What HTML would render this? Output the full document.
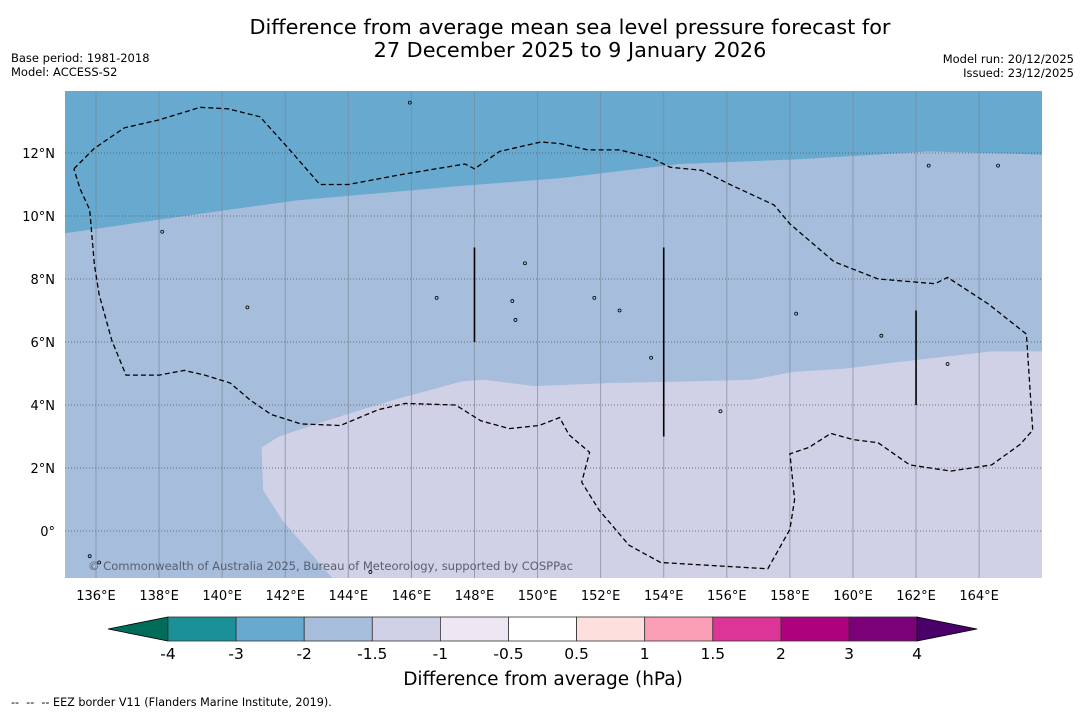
<!DOCTYPE html>
<html><head><meta charset="utf-8"><style>
body{margin:0;background:#fff;width:1085px;height:713px;overflow:hidden;font-family:"Liberation Sans","DejaVu Sans",sans-serif;}
svg text{font-family:"DejaVu Sans","Liberation Sans",sans-serif;}
</style></head><body>
<svg id="chart" width="1085" height="713" xmlns="http://www.w3.org/2000/svg">
<text x="570" y="34" font-size="20.8" text-anchor="middle">Difference from average mean sea level pressure forecast for</text>
<text x="570" y="57" font-size="20.8" text-anchor="middle">27 December 2025 to 9 January 2026</text>
<text x="11" y="62" font-size="11.5">Base period: 1981-2018</text>
<text x="11" y="76" font-size="11.5">Model: ACCESS-S2</text>
<text x="1074" y="63" font-size="11.5" text-anchor="end">Model run: 20/12/2025</text>
<text x="1074" y="77" font-size="11.5" text-anchor="end">Issued: 23/12/2025</text>
<g id="map"></g>
<g id="cbar"></g>
<text x="543" y="685" font-size="18.5" text-anchor="middle">Difference from average (hPa)</text>
<text x="11" y="706" font-size="11.2" xml:space="preserve">--  --  -- EEZ border V11 (Flanders Marine Institute, 2019).</text>
</svg>
<script>
const lonTicks=[136,138,140,142,144,146,148,150,152,154,156,158,160,162,164];
const latTicks=[12,10,8,6,4,2,0];
const levels=["-4","-3","-2","-1.5","-1","-0.5","0.5","1","1.5","2","3","4"];
const levelColors=["#1c9099","#67a9cf","#a6bddb","#d0d1e6","#ece7f2","#ffffff","#fde0dd","#fa9fb5","#dd3497","#ae017e","#7a0177"];
const underColor="#016c59", overColor="#49006a";
const darkEdge=[[135,9.45],[140.2,10.2],[142.4,10.5],[147.5,10.95],[150.7,11.2],[154.5,11.65],[158.3,11.8],[162.4,12.05],[166,11.95]];
const lightEdge=[[143.5,-1.5],[141.9,0.35],[141.3,1.3],[141.25,2.65],[141.8,3.0],[143.3,3.5],[145.4,4.15],[147.6,4.75],[148.3,4.8],[149.9,4.6],[152.4,4.7],[154.9,4.75],[156.8,4.8],[158.1,5.05],[159.7,5.15],[161.3,5.35],[164.4,5.7],[166,5.7]];
const eez=[[135.3,11.5],[135.95,12.15],[136.9,12.8],[138.0,13.05],[139.3,13.45],[140.2,13.4],[141.2,13.15],[142.1,12.15],[143.1,11.0],[144.0,11.0],[145.6,11.3],[147.7,11.65],[148.0,11.5],[148.8,12.05],[150.1,12.35],[150.7,12.3],[151.6,12.1],[152.6,12.1],[153.6,11.85],[154.2,11.55],[155.2,11.45],[156.1,11.0],[157.5,10.35],[158.0,9.75],[159.4,8.55],[160.8,8.0],[162.6,7.85],[163.0,8.05],[164.3,7.2],[165.5,6.25],[165.7,3.2],[165.3,2.75],[164.4,2.1],[163.1,1.9],[161.8,2.1],[160.8,2.8],[160.0,2.9],[159.3,3.1],[158.6,2.65],[158.0,2.45],[158.15,1.0],[158.0,0.05],[157.3,-1.2],[153.9,-1.0],[152.9,-0.45],[151.96,0.65],[151.4,1.55],[151.65,2.5],[151.0,3.05],[150.7,3.6],[150.05,3.35],[149.1,3.25],[148.2,3.5],[147.4,4.0],[145.8,4.05],[144.95,3.85],[143.75,3.35],[142.5,3.4],[141.55,3.7],[140.9,4.15],[140.25,4.7],[139.45,4.95],[138.8,5.1],[138.0,4.95],[136.95,4.95],[136.5,6.05],[136.1,7.5],[135.95,8.45],[135.8,10.2],[135.5,10.85],[135.3,11.5]];
const bars=[[148,6,9],[154,3,9],[162,4,7]];
const islands=[[145.95,13.6],[138.1,9.5],[151.8,7.4],[158.2,6.9],[163,5.3],[140.8,7.1],[149.6,8.5],[146.8,7.4],[149.2,7.3],[153.6,5.5],[160.9,6.2],[155.8,3.8],[149.3,6.7],[152.6,7.0],[162.4,11.6],[164.6,11.6],[144.7,-1.3],[135.8,-0.8],[136.1,-1.0]];
const NS="http://www.w3.org/2000/svg";
const X0=65,X1=1042,Y0=91,Y1=578;
function xs(lon){return 96+(lon-136)*31.54;}
function ys(lat){return 531-lat*31.5;}
function mk(tag,attrs,parent){const e=document.createElementNS(NS,tag);for(const k in attrs)e.setAttribute(k,attrs[k]);parent.appendChild(e);return e;}
function pts(a){return a.map(p=>xs(p[0]).toFixed(1)+","+ys(p[1]).toFixed(1)).join(" ");}
const map=document.getElementById("map");
const defs=mk("defs",{},map);
const cp=mk("clipPath",{id:"clip"},defs);
mk("rect",{x:X0,y:Y0,width:X1-X0,height:Y1-Y0},cp);
const g=mk("g",{"clip-path":"url(#clip)"},map);
let r=mk("rect",{x:X0,y:Y0,width:X1-X0,height:Y1-Y0,fill:levelColors[2]},g);


let p=mk("polygon",{points:xs(135)+","+Y0+" "+pts(darkEdge)+" "+xs(166)+","+Y0,fill:levelColors[1]},g);


p=mk("polygon",{points:pts(lightEdge)+" "+xs(166)+","+(Y1+5)+" "+xs(143.5)+","+(Y1+5),fill:levelColors[3]},g);


lonTicks.forEach(l=>{const e=mk("line",{x1:xs(l),x2:xs(l),y1:Y0,y2:Y1,stroke:"#7a8a9a","stroke-width":1,"stroke-opacity":0.7},g);

});
latTicks.forEach(l=>{const e=mk("line",{x1:X0,x2:X1,y1:ys(l),y2:ys(l),stroke:"#555","stroke-width":0.8,"stroke-dasharray":"1,2"},g);

});
islands.forEach(i=>{const e=mk("circle",{cx:xs(i[0]),cy:ys(i[1]),r:1.5,fill:"none",stroke:"#000","stroke-width":0.8},g);

});
bars.forEach(b=>{const e=mk("line",{x1:xs(b[0]),x2:xs(b[0]),y1:ys(b[2]),y2:ys(b[1]),stroke:"#000","stroke-width":1.6},g);

});
p=mk("polyline",{points:pts(eez),fill:"none",stroke:"#000","stroke-width":1.3,"stroke-dasharray":"5,3"},g);


let t=mk("text",{x:88,y:570,"font-size":11.6,fill:"#5a6070"},g);t.textContent="© Commonwealth of Australia 2025, Bureau of Meteorology, supported by COSPPac";


t.setAttribute('textLength','485');
lonTicks.forEach(l=>{const e=mk("text",{x:xs(l),y:600,"font-size":13,"text-anchor":"middle"},map);e.textContent=l+"°E";

});
latTicks.forEach(l=>{const e=mk("text",{x:55,y:ys(l)+5,"font-size":13,"text-anchor":"end"},map);e.textContent=l===0?"0°":l+"°N";

});
const cb=document.getElementById("cbar");
const B0=168,BW=68.1,CY0=617,CY1=641;
p=mk("polygon",{points:`108,629 ${B0},${CY0} ${B0},${CY1}`,fill:underColor,stroke:"#000","stroke-width":0.8},cb);


levelColors.forEach((c,i)=>{const e=mk("rect",{x:B0+i*BW,y:CY0,width:BW,height:CY1-CY0,fill:c,stroke:"#333","stroke-width":0.8},cb);

});
const bend=B0+levelColors.length*BW;
p=mk("polygon",{points:`${bend},${CY0} ${bend+60},629 ${bend},${CY1}`,fill:overColor,stroke:"#000","stroke-width":0.8},cb);


levels.forEach((l,i)=>{const e=mk("text",{x:B0+i*BW,y:659,"font-size":15.5,"text-anchor":"middle"},cb);e.textContent=l;

});
</script>
</body></html>
